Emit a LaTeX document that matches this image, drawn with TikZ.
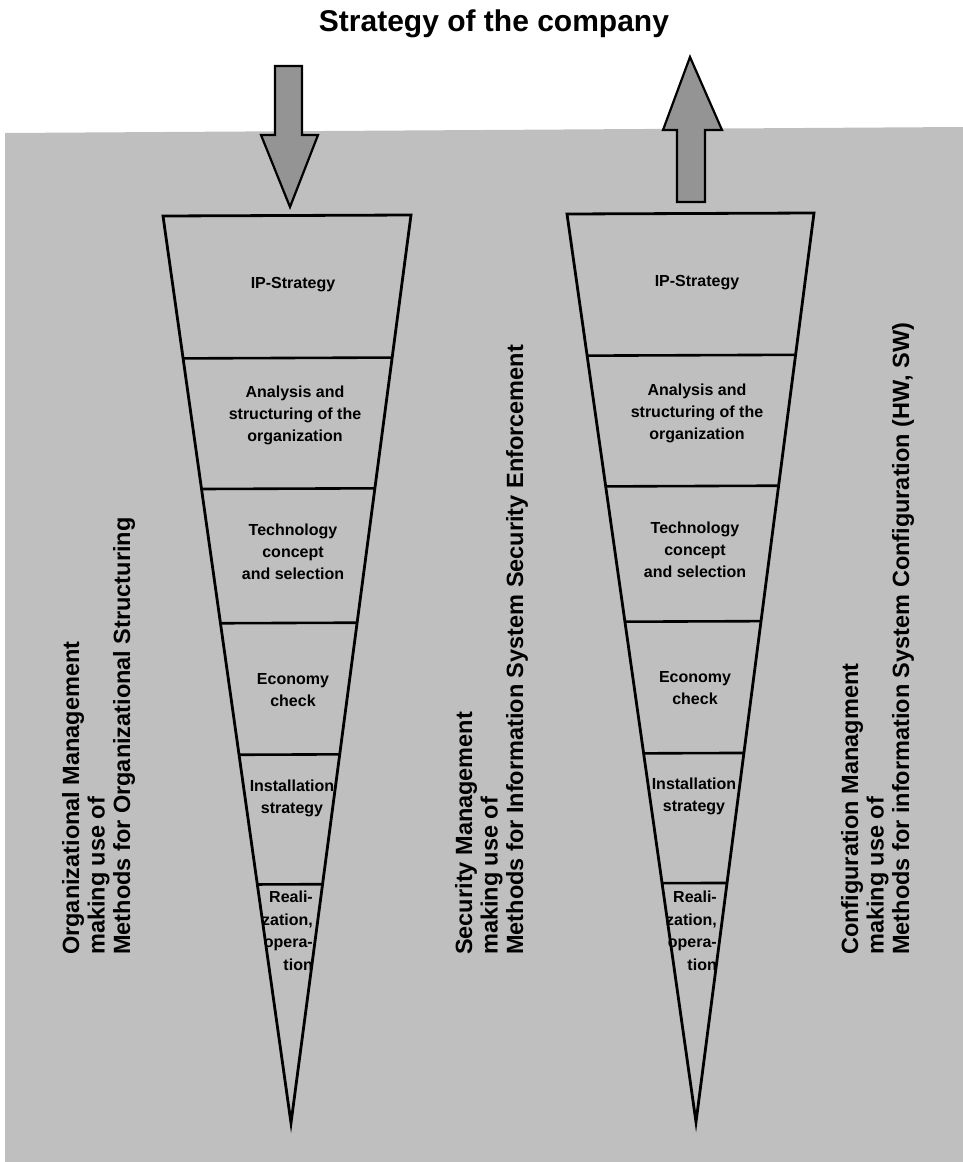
\documentclass[tikz,border=0pt]{standalone}
\usepackage{fontspec}
\setmainfont{Liberation Sans}
\usetikzlibrary{calc}
\definecolor{bgdot}{gray}{0.75}
\definecolor{arrowdot}{gray}{0.58}
\begin{document}
\begin{tikzpicture}[x=1pt,y=-1pt,
  funnelline/.style={line width=2.8pt, line join=miter, line cap=butt},
  divline/.style={line width=2.6pt},
  bigarrow/.style={draw, line width=2.2pt, fill=arrowdot, line join=miter},
  phase/.style={font=\bfseries\fontsize{16}{22}\selectfont, align=center, inner sep=0pt},
  phaseR/.style={font=\bfseries\fontsize{16}{22.5}\selectfont, align=right, inner sep=0pt},
  sidetext/.style={font=\bfseries\fontsize{23.5}{25.5}\selectfont, rotate=90, anchor=north west, align=left, inner sep=0pt},
  titletext/.style={font=\bfseries\fontsize{30}{34}\selectfont, inner sep=0pt, anchor=base}]
\useasboundingbox (0,0) rectangle (963,1162);
% background
\fill[bgdot] (5,133) -- (963,127) -- (963,1162) -- (5,1162) -- cycle;
% title
\node[titletext] (title) at (494,31) {Strategy of the company};
% arrows
\draw[bigarrow] (275,66) -- (302,66) -- (302,135) -- (318,135) -- (290,207) -- (261,135) -- (275,135) -- cycle;
\draw[bigarrow] (677,202) -- (705,202) -- (705,130) -- (722,130) -- (690,57) -- (663,130) -- (677,130) -- cycle;
% left funnel
\coordinate (LTL) at (163,216);
\coordinate (LTR) at (411,215);
\coordinate (LA) at (291,1123);
\draw[funnelline] (LTL) -- (LTR) -- (LA) -- cycle;
\foreach \t in {0.157,0.301,0.449,0.594,0.737}
  \draw[divline] ($(LTL)!\t!(LA)$) -- ($(LTR)!\t!(LA)$);
% right funnel
\coordinate (RTL) at (567,214);
\coordinate (RTR) at (814,213);
\coordinate (RA) at (696,1122);
\draw[funnelline] (RTL) -- (RTR) -- (RA) -- cycle;
\foreach \t in {0.156,0.300,0.449,0.594,0.737}
  \draw[divline] ($(RTL)!\t!(RA)$) -- ($(RTR)!\t!(RA)$);
% left funnel texts
\node[phase] (l1) at (293,285) {IP-Strategy};
\node[phase] (l2) at (295,415) {Analysis and\\structuring of the\\organization};
\node[phase] (l3) at (293,552) {Technology\\concept\\and selection};
\node[phase] (l4) at (293,690) {Economy\\check};
\node[phase] (l5) at (292,798) {Installation\\strategy};
\node[phaseR, anchor=north east] (l6) at (313,891) {Reali-\\zation,\\opera-\\tion};
% right funnel texts
\node[phase] (r1) at (697,283) {IP-Strategy};
\node[phase] (r2) at (697,413) {Analysis and\\structuring of the\\organization};
\node[phase] (r3) at (695,550) {Technology\\concept\\and selection};
\node[phase] (r4) at (695,688) {Economy\\check};
\node[phase] (r5) at (694,796) {Installation\\strategy};
\node[phaseR, anchor=north east] (r6) at (717,891) {Reali-\\zation,\\opera-\\tion};
% side texts
\node[sidetext] (s1) at (62,955) {Organizational Management\\making use of\\Methods for Organizational Structuring};
\node[sidetext] (s2) at (455,955) {Security Management\\making use of\\Methods for Information System Security Enforcement};
\node[sidetext] (s3) at (841,955) {Configuration Managment\\making use of\\Methods for information System Configuration (HW, SW)};
\end{tikzpicture}
\end{document}
